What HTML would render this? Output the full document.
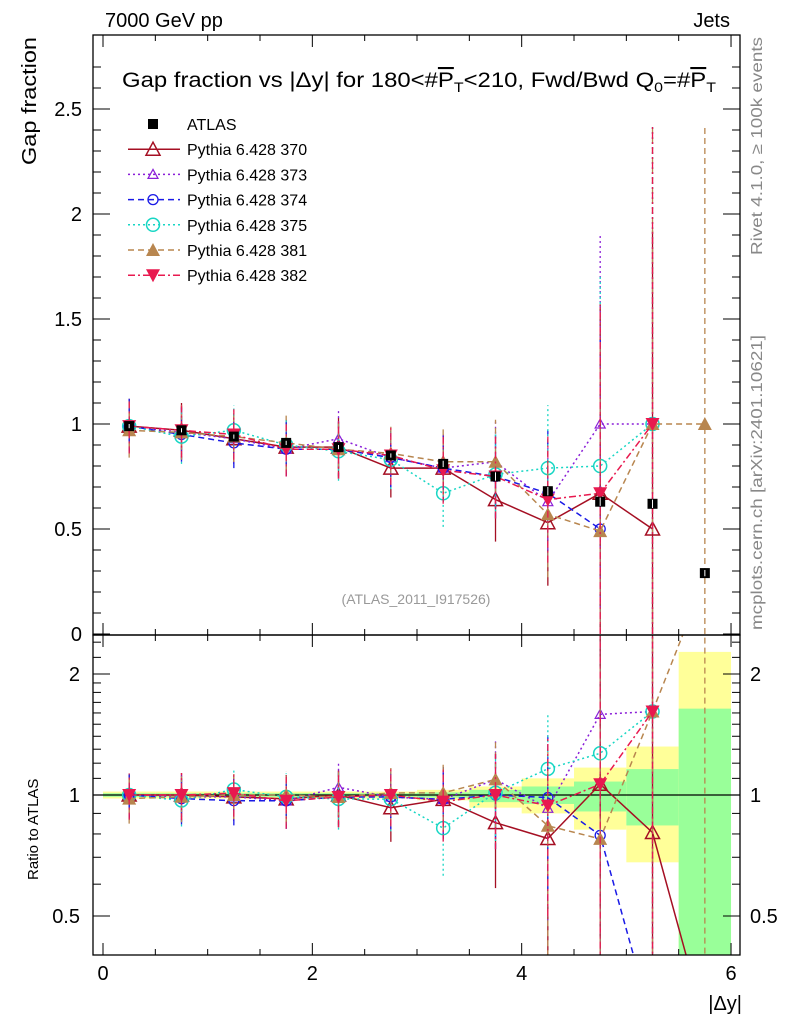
<!DOCTYPE html>
<html><head><meta charset="utf-8"><style>
html,body{margin:0;padding:0;background:#fff;overflow:hidden;width:786px;height:1024px}
svg{font-family:"Liberation Sans",sans-serif;display:block}
</style></head><body>
<svg id="c" width="786" height="1024" viewBox="0 0 786 1024" xmlns="http://www.w3.org/2000/svg" overflow="hidden">
<defs>
<clipPath id="cm"><rect x="93" y="35" width="647" height="600"/></clipPath>
<clipPath id="cr"><rect x="93" y="635" width="647" height="320"/></clipPath>
</defs>
<g id="bands" clip-path="url(#cr)"></g>
<g id="plot"></g>
<rect x="93" y="35" width="647" height="600" fill="none" stroke="#000" stroke-width="1.3"/>
<rect x="93" y="635" width="647" height="320" fill="none" stroke="#000" stroke-width="1.3"/>
<g id="axes"></g>
<text x="105" y="27" font-size="20">7000 GeV pp</text>
<text x="730" y="27" font-size="20" text-anchor="end">Jets</text>
<text x="122" y="87" font-size="21" textLength="594" lengthAdjust="spacingAndGlyphs">Gap fraction vs |Δy| for 180&lt;#<tspan text-decoration="overline">P</tspan><tspan font-size="14" dy="5">T</tspan><tspan dy="-5">&lt;210, Fwd/Bwd Q</tspan><tspan font-size="14" dy="5">0</tspan><tspan dy="-5">=#</tspan><tspan text-decoration="overline">P</tspan><tspan font-size="14" dy="5">T</tspan></text>
<text transform="translate(36,165) rotate(-90)" font-size="20" textLength="128" lengthAdjust="spacingAndGlyphs">Gap fraction</text>
<text transform="translate(38,880) rotate(-90)" font-size="15">Ratio to ATLAS</text>
<text x="742" y="1010" font-size="20" text-anchor="end">|Δy|</text>
<text transform="translate(762,255) rotate(-90)" font-size="16" fill="#888" textLength="218" lengthAdjust="spacingAndGlyphs">Rivet 4.1.0, ≥ 100k events</text>
<text transform="translate(762,630) rotate(-90)" font-size="16" fill="#888" textLength="295" lengthAdjust="spacingAndGlyphs">mcplots.cern.ch [arXiv:2401.10621]</text>
<text x="416" y="604" font-size="14" fill="#999" text-anchor="middle">(ATLAS_2011_I917526)</text>
<g id="legend"></g>
</svg>
<script>
const xCenters=[0.25,0.75,1.25,1.75,2.25,2.75,3.25,3.75,4.25,4.75,5.25,5.75];
const atlas=[0.99,0.97,0.94,0.91,0.89,0.85,0.81,0.75,0.68,0.63,0.62,0.29];
const atlasErr=[0.01,0.01,0.01,0.01,0.01,0.01,0.015,0.02,0.02,0.02,0.02,0.015];
const s370=[0.99,0.97,0.93,0.89,0.89,0.79,0.79,0.64,0.53,0.67,0.50,0];
const s373=[0.99,0.96,0.93,0.88,0.93,0.84,0.79,0.82,0.63,1.0,1.0,null];
const s374=[0.99,0.95,0.91,0.88,0.88,0.84,0.79,0.75,0.67,0.50,0,null];
const s375=[0.99,0.94,0.97,0.90,0.87,0.83,0.67,0.76,0.79,0.80,1.0,null];
const s381=[0.97,0.96,0.94,0.91,0.88,0.86,0.82,0.82,0.57,0.49,1.0,1.0];
const s382=[0.99,0.97,0.95,0.88,0.88,0.85,0.78,0.75,0.64,0.67,1.0,null];
const mcErr=[0.13,0.13,0.12,0.13,0.14,0.14,0.16,0.2,0.3,0.9,1.42,1.42];
const bandYlo=[0.98,0.98,0.98,0.98,0.98,0.98,0.97,0.93,0.90,0.82,0.68,0];
const bandYhi=[1.02,1.02,1.02,1.02,1.02,1.02,1.03,1.05,1.10,1.17,1.32,2.27];
const bandGlo=[0.99,0.99,0.99,0.99,0.99,0.99,0.985,0.96,0.95,0.91,0.84,0];
const bandGhi=[1.01,1.01,1.01,1.01,1.01,1.01,1.015,1.03,1.05,1.08,1.16,1.64];
const xTicks=[0,2,4,6];
const yTicks=[0.5,1,1.5,2,2.5];
const rTicks=[0.5,1,2];

const NS='http://www.w3.org/2000/svg';
const X=v=>103+104.67*v;
const Y=v=>634-210*v;
const R=v=>795-121*Math.log2(Math.max(v,0.27));
function mk(tag,at,par){const e=document.createElementNS(NS,tag);for(const k in at)e.setAttribute(k,at[k]);par.appendChild(e);return e;}
const plot=document.getElementById('plot'),axes=document.getElementById('axes'),bands=document.getElementById('bands'),leg=document.getElementById('legend');

xCenters.forEach((c,i)=>{
  let r=mk('rect',{x:X(c-0.25),y:R(bandYhi[i]),width:X(0.5)-X(0),height:R(bandYlo[i])-R(bandYhi[i]),fill:'#ffff99'},bands);
  
  
  let g=mk('rect',{x:X(c-0.25),y:R(bandGhi[i]),width:X(0.5)-X(0),height:R(bandGlo[i])-R(bandGhi[i]),fill:'#99ff99'},bands);
  
  
});
let one=mk('line',{x1:93,x2:740,y1:R(1),y2:R(1),stroke:'#000','stroke-width':1.3},plot);



xTicks.forEach(t=>{
  let tx=mk('text',{x:X(t),y:980,'font-size':20,'text-anchor':'middle'},axes);tx.textContent=t;
  
  
  [[635,647],[955,943],[35,47],[635,623]].forEach(p=>mk('line',{x1:X(t),x2:X(t),y1:p[0],y2:p[1],stroke:'#000'},axes));
});
for(let t=0;t<=6;t+=0.5){if(t%2)[[635,641],[955,949],[35,41],[635,629]].forEach(p=>mk('line',{x1:X(t),x2:X(t),y1:p[0],y2:p[1],stroke:'#000'},axes));}
[0].concat(yTicks).forEach(t=>{
  let tx=mk('text',{x:82,y:Y(t)+7,'font-size':20,'text-anchor':'end'},axes);tx.textContent=t;
  
  
  mk('line',{x1:93,x2:110,y1:Y(t),y2:Y(t),stroke:'#000'},axes);
  mk('line',{x1:740,x2:723,y1:Y(t),y2:Y(t),stroke:'#000'},axes);
});
for(let t=0.1;t<2.8;t+=0.1){mk('line',{x1:93,x2:101,y1:Y(t),y2:Y(t),stroke:'#000'},axes);mk('line',{x1:740,x2:732,y1:Y(t),y2:Y(t),stroke:'#000'},axes);}
rTicks.forEach(t=>{
  let tx=mk('text',{x:80,y:R(t)+7,'font-size':20,'text-anchor':'end'},axes);tx.textContent=t;
  
  
  let tr=mk('text',{x:750,y:R(t)+7,'font-size':20},axes);tr.textContent=t;
  
  
  mk('line',{x1:93,x2:110,y1:R(t),y2:R(t),stroke:'#000'},axes);
  mk('line',{x1:740,x2:723,y1:R(t),y2:R(t),stroke:'#000'},axes);
});
[0.6,0.7,0.8,0.9,1.1,1.2,1.3,1.4,1.5,1.6,1.7,1.8,1.9,2.2,2.4].forEach(t=>{mk('line',{x1:93,x2:101,y1:R(t),y2:R(t),stroke:'#000'},axes);mk('line',{x1:740,x2:732,y1:R(t),y2:R(t),stroke:'#000'},axes);});

function marker(type,x,y,col,par){
  if(type==='sq')return mk('rect',{x:x-5,y:y-5,width:10,height:10,fill:col},par);
  if(type==='tri')return mk('polygon',{points:`${x},${y-7} ${x-7},${y+6} ${x+7},${y+6}`,fill:'none',stroke:col,'stroke-width':1.5},par);
  if(type==='tris')return mk('polygon',{points:`${x},${y-5} ${x-5},${y+4} ${x+5},${y+4}`,fill:'none',stroke:col,'stroke-width':1.2},par);
  if(type==='circ')return mk('circle',{cx:x,cy:y,r:5,fill:'none',stroke:col,'stroke-width':1.3},par);
  if(type==='circl')return mk('circle',{cx:x,cy:y,r:6.5,fill:'none',stroke:col,'stroke-width':1.5},par);
  if(type==='triup')return mk('polygon',{points:`${x},${y-7} ${x-7},${y+6} ${x+7},${y+6}`,fill:col},par);
  if(type==='tridn')return mk('polygon',{points:`${x},${y+7} ${x-7},${y-6} ${x+7},${y-6}`,fill:col},par);
}
const series=[
 {name:'Pythia 6.428 370',d:s370,col:'#a50f23',dash:'',m:'tri',id:'series-370'},
 {name:'Pythia 6.428 373',d:s373,col:'#8a1ed8',dash:'2,3',m:'tris',id:'series-373'},
 {name:'Pythia 6.428 374',d:s374,col:'#1a1ae6',dash:'6,4',m:'circ',id:'series-374'},
 {name:'Pythia 6.428 375',d:s375,col:'#17d6c4',dash:'2,3',m:'circl',id:'series-375'},
 {name:'Pythia 6.428 381',d:s381,col:'#b8864f',dash:'6,4',m:'triup',id:'series-381'},
 {name:'Pythia 6.428 382',d:s382,col:'#e8194f',dash:'7,3,2,3',m:'tridn',id:'series-382'}
];
const gm=mk('g',{'clip-path':'url(#cm)'},plot), gr=mk('g',{'clip-path':'url(#cr)'},plot);
series.forEach(s=>{
  const g1=mk('g',{},gm);
  
  
  const g2=mk('g',{},gr);
  
  
  let pm=[],pr=[];
  s.d.forEach((v,i)=>{
    if(v===null)return;
    const rv=v/atlas[i];
    pr.push([X(xCenters[i]),R(rv)]);
    if(v>0){
      pm.push([X(xCenters[i]),Y(v)]);
      const e=mcErr[i];
      mk('line',{x1:X(xCenters[i]),x2:X(xCenters[i]),y1:Y(Math.max(0,v-e)),y2:Y(v+e),stroke:s.col,'stroke-width':1.3,'stroke-dasharray':s.dash},g1);
      mk('line',{x1:X(xCenters[i]),x2:X(xCenters[i]),y1:R((v-e)/atlas[i]),y2:R((v+e)/atlas[i]),stroke:s.col,'stroke-width':1.3,'stroke-dasharray':s.dash},g2);
    }
  });
  mk('polyline',{points:pm.map(p=>p.join(',')).join(' '),fill:'none',stroke:s.col,'stroke-width':1.5,'stroke-dasharray':s.dash},g1);
  mk('polyline',{points:pr.map(p=>p.join(',')).join(' '),fill:'none',stroke:s.col,'stroke-width':1.5,'stroke-dasharray':s.dash},g2);
  s.d.forEach((v,i)=>{
    if(v===null||v<=0)return;
    const m1=marker(s.m,X(xCenters[i]),Y(v),s.col,g1);
    
    
    const m2=marker(s.m,X(xCenters[i]),R(v/atlas[i]),s.col,g2);
    
    
  });
});
const ga=mk('g',{},gm);


atlas.forEach((v,i)=>{
  const m=marker('sq',X(xCenters[i]),Y(v),'#000',ga);
  
  
  mk('line',{x1:X(xCenters[i]),x2:X(xCenters[i]),y1:Y(v-atlasErr[i]),y2:Y(v+atlasErr[i]),stroke:'#fff','stroke-width':1},ga);
});
const items=[{name:'ATLAS',col:'#000',m:'sq',dash:null}].concat(series);
items.forEach((s,k)=>{
  const y=124+25.2*k;
  const g=mk('g',{},leg);
  
  
  if(s.dash!==null)mk('line',{x1:128,x2:180,y1:y,y2:y,stroke:s.col,'stroke-width':1.5,'stroke-dasharray':s.dash},g);
  marker(s.m,153,y,s.col,g);
  const t=mk('text',{x:187,y:y+6,'font-size':16},g);t.textContent=s.name;
});
</script>
</body></html>
